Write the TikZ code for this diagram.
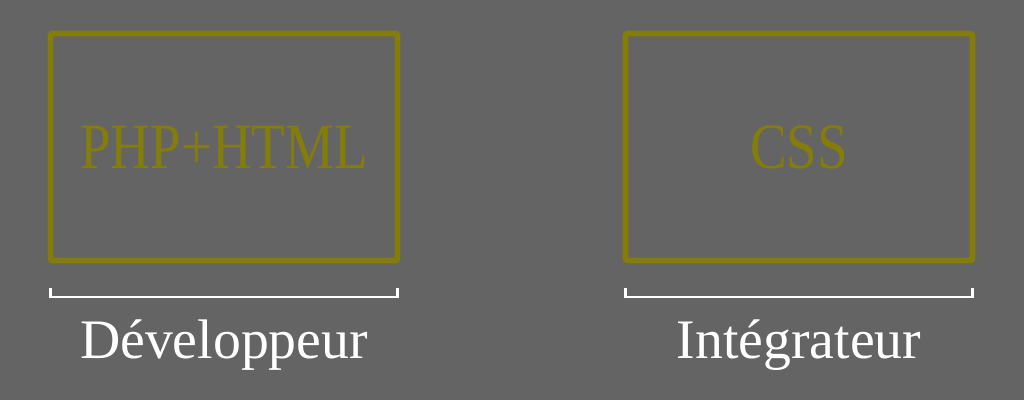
\documentclass[tikz,border=0pt]{standalone}
\usepackage{fontspec}
\setmainfont{Liberation Serif}
\newfontfamily\boxfont[FakeStretch=0.85]{Liberation Serif}
\usetikzlibrary{positioning}
\definecolor{bg}{HTML}{646464}
\definecolor{olive}{HTML}{857D0A}
\tikzset{
	role/.style={draw=olive,line width=4.2pt,rounded corners=1.5pt,minimum width=260.25pt,minimum height=170.25pt,inner sep=0pt,outer sep=0pt,text=olive,font=\boxfont\fontsize{48.5pt}{50pt}\selectfont},
	who/.style={anchor=base,text=white,font=\fontsize{41.8pt}{43pt}\selectfont},
	brace/.style={draw=white,line width=1.6pt}
}
\begin{document}
\begin{tikzpicture}[x=0.75pt,y=-0.75pt]
	\fill[bg] (0,0) rectangle (1024,400);
	\node[role] (php) at (224,147) {PHP+HTML};
	\node[role] (css) at (799,147) {CSS};

	\draw[brace] ([yshift=-20.5pt]php.south west) -- ++(0,9) -| ([yshift=-20.5pt]php.south east);
	\draw[brace] ([yshift=-20.5pt]css.south west) -- ++(0,9) -| ([yshift=-20.5pt]css.south east);

	\node[who] (dev) at (224,358) {Développeur};
	\node[who] (int) at (799,358) {Intégrateur};
\end{tikzpicture}
\end{document}
